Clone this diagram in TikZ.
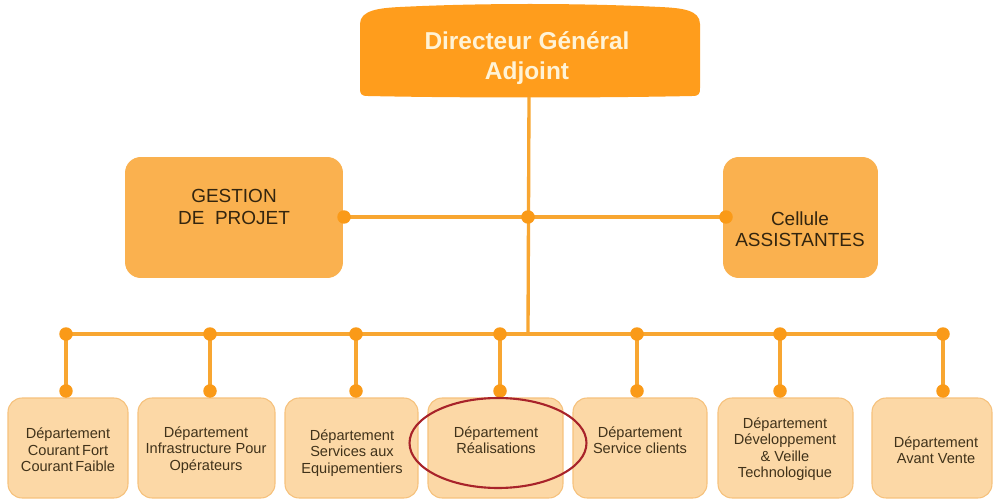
\documentclass[tikz,border=0pt]{standalone}
\usepackage{fontspec}
\setmainfont{Liberation Sans}
\usetikzlibrary{shapes.geometric}
\definecolor{dgfill}{HTML}{FF9D1C}
\definecolor{dgtext}{HTML}{FFF3D6}
\definecolor{midfill}{HTML}{FAB14F}
\definecolor{midtext}{HTML}{33250F}
\definecolor{lowfill}{HTML}{FCD8A6}
\definecolor{lowline}{HTML}{F6C17C}
\definecolor{lowtext}{HTML}{40321A}
\definecolor{linkcol}{HTML}{F8A631}
\definecolor{dotcol}{HTML}{FA9A18}
\definecolor{markred}{HTML}{A8232A}
\tikzset{
  link/.style={draw=linkcol, line width=1.9pt},
  dot/.style={circle, fill=dotcol, inner sep=0pt, minimum size=2.7mm},
  midbox/.style={draw=none, fill=midfill, rounded corners=9pt, inner sep=0pt},
  midlabel/.style={text=midtext, font=\fontsize{10.8}{12}\selectfont, align=center},
  dept/.style={draw=lowline, line width=0.6pt, fill=lowfill, rounded corners=8pt,
    minimum height=2cm, inner sep=0pt},
  deptlabel/.style={text=lowtext, font=\fontsize{8.3}{9.4}\selectfont, align=center},
}
\begin{document}
\begin{tikzpicture}[x=0.02cm, y=-0.02cm]
\useasboundingbox (0,0) rectangle (994,500);
\fill[white] (0,0) rectangle (994,500);

% Head box: arched top, rounded corners
\fill[dgfill] (368,96) .. controls (361,96) and (360,94) .. (360,88) -- (360,24)
  .. controls (360,10) and (380,8) .. (400,7)
  .. controls (480,3) and (580,3) .. (660,7)
  .. controls (682,8) and (700,10) .. (700,24) -- (700,88)
  .. controls (700,94) and (699,96) .. (692,96)
  .. controls (600,98) and (460,98) .. (368,96) -- cycle;
\node[text=dgtext, font=\bfseries\fontsize{13.9}{17}\selectfont, align=center]
  (dg) at (527,58) {Directeur Général\\Adjoint};
\coordinate (dgfoot) at (529,97);

% Staff level
\node[midbox, minimum width=4.36cm, minimum height=2.42cm] (gp) at (234,217.5) {};
\node[midlabel] (gpt) at (234,207) {GESTION\\DE\ \ PROJET};
\node[midbox, minimum width=3.1cm, minimum height=2.42cm] (ca) at (800.5,217.5) {};
\node[midlabel] (cat) at (800,229) {Cellule\\ASSISTANTES};

\coordinate (hub) at (528,217);
\coordinate (hub2) at (528,333);
\coordinate (gpr) at (344,217);
\coordinate (cal) at (726,217);

% Department boxes
\node[dept, minimum width=2.4cm]  (d1) at (68,448)    {};
\node[dept, minimum width=2.74cm] (d2) at (206.5,448) {};
\node[dept, minimum width=2.66cm] (d3) at (351.5,448) {};
\node[dept, minimum width=2.7cm]  (d4) at (495.5,448) {};
\node[dept, minimum width=2.68cm] (d5) at (640,448)   {};
\node[dept, minimum width=2.7cm]  (d6) at (785.5,448) {};
\node[dept, minimum width=2.4cm]  (d7) at (932,448)   {};

\node[deptlabel] (t1) at (68,450)  {Département\\Courant\,Fort\\Courant\,Faible};
\node[deptlabel] (t2) at (206,450) {Département\\Infrastructure Pour\\Opérateurs};
\node[deptlabel] (t3) at (352,453) {Département\\Services aux\\Equipementiers};
\node[deptlabel] (t4) at (496,440) {Département\\Réalisations};
\node[deptlabel] (t5) at (640,440) {Département\\Service clients};
\node[deptlabel] (t6) at (785,449) {Département\\Développement\\\&\ Veille\\Technologique};
\node[deptlabel] (t7) at (936,450) {Département\\Avant Vente};

% Bus and drop points
\foreach \i/\xx in {1/66,2/210,3/356,4/500,5/637,6/780,7/943}{
  \coordinate (u\i) at (\xx,334);
  \coordinate (l\i) at (\xx,391);
}

\draw[link] (dgfoot) -- (hub2);
\draw[link] (gpr) -- (cal);
\draw[link] (u1) -- (u7);
\foreach \i in {1,...,7}{ \draw[link] (u\i) -- (l\i); }

\foreach \p in {gpr,hub,cal,u1,u2,u3,u4,u5,u6,u7,l1,l2,l3,l4,l5,l6,l7}{
  \node[dot] at (\p) {};
}

% Highlight ring
\node[draw=markred, line width=1.2pt, ellipse, minimum width=3.54cm, minimum height=1.8cm,
  inner sep=0pt] (ring) at (498,443) {};
\end{tikzpicture}
\end{document}
